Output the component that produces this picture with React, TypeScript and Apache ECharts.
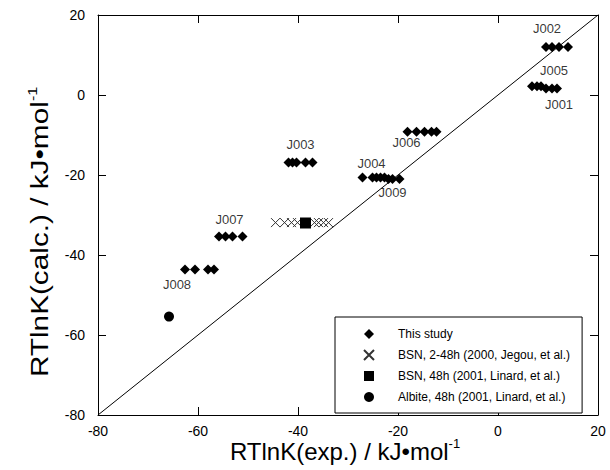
import React, { useEffect, useRef } from "react";
import * as echarts from "echarts";

// Data (kJ/mol)
const thisStudy: [number, number][] = [
  // J002
  [9.6, 12], [10.8, 12], [12.2, 12], [14.0, 12],
  // J005
  [6.8, 2.2], [7.8, 2.2], [8.6, 2.2],
  // J001
  [9.6, 1.6], [10.8, 1.6], [11.8, 1.6],
  // J006
  [-18.1, -9.2], [-16.3, -9.2], [-14.7, -9.2], [-13.3, -9.2], [-12.3, -9.2],
  // J004
  [-27.1, -20.6], [-25.1, -20.6], [-24.3, -20.6], [-23.5, -20.6], [-22.7, -20.6],
  // J009
  [-21.9, -21.0], [-21.1, -21.0], [-19.7, -21.0],
  // J003
  [-41.9, -16.9], [-41.1, -16.9], [-40.3, -16.9], [-38.5, -16.9], [-37.1, -16.9],
  // J007
  [-55.8, -35.4], [-54.5, -35.4], [-53.1, -35.4], [-51.1, -35.4],
  // J008
  [-62.6, -43.6], [-60.6, -43.6], [-58.0, -43.6], [-56.8, -43.6],
];
const bsnJegou: [number, number][] = [
  [-44.5, -31.9], [-42.7, -31.9], [-41.3, -31.9], [-40.1, -31.9],
  [-36.7, -31.9], [-35.9, -31.9], [-34.9, -31.9], [-33.9, -31.9],
];
const bsnLinard: [number, number][] = [[-38.5, -32.0]];
const albite: [number, number][] = [[-65.8, -55.4]];
const sampleLabels: [number, number, string][] = [
  [9.8, 16.75, "J002"],
  [11.2, 6.25, "J005"],
  [12.2, -2.25, "J001"],
  [-18.3, -11.75, "J006"],
  [-25.3, -17.0, "J004"],
  [-21.1, -24.25, "J009"],
  [-39.5, -12.25, "J003"],
  [-53.7, -31.0, "J007"],
  [-64.2, -47.25, "J008"],
];
const identityLine: [number, number][] = [[-80, -80], [20, 20]];
const seriesNames = [
  "This study",
  "BSN, 2-48h (2000, Jegou, et al.)",
  "BSN, 48h (2001, Linard, et al.)",
  "Albite, 48h (2001, Linard, et al.)",
];
const axisMin = -80;
const axisMax = 20;
const axisStep = 20;

const FONT = "'Liberation Sans', Arial, Helvetica, sans-serif";
const CROSS = "path://M0,0L10,10M10,0L0,10";

export default function App() {
  const ref = useRef<HTMLDivElement>(null);
  useEffect(() => {
    if (!ref.current) return;
    const chart = echarts.init(ref.current, undefined, { renderer: "svg" });
    const baseAxis = {
      type: "value" as const,
      min: axisMin,
      max: axisMax,
      interval: axisStep,
      splitLine: { show: false },
      axisLine: { show: true, onZero: false, lineStyle: { color: "#000", width: 1 } },
      axisTick: { show: true, inside: true, length: 8, lineStyle: { color: "#000" } },
    };
    chart.setOption({
      animation: false,
      backgroundColor: "#fff",
      textStyle: { fontFamily: FONT },
      grid: { left: 98, right: 12, top: 15, bottom: 55 },
      xAxis: [
        {
          ...baseAxis,
          position: "bottom",
          axisLabel: { color: "#000", fontSize: 14, margin: 9, fontFamily: FONT },
        },
        { ...baseAxis, position: "top", axisLabel: { show: false } },
      ],
      yAxis: [
        {
          ...baseAxis,
          position: "left",
          axisLabel: { color: "#000", fontSize: 14, margin: 13, fontFamily: FONT },
        },
        { ...baseAxis, position: "right", axisLabel: { show: false } },
      ],
      legend: {
        data: seriesNames,
        orient: "vertical",
        left: 335,
        top: 317,
        padding: [11, 12, 10, 28],
        itemWidth: 10,
        itemHeight: 10,
        itemGap: 9,
        borderColor: "#000",
        borderWidth: 1,
        borderRadius: 0,
        backgroundColor: "#fff",
        textStyle: { color: "#000", fontSize: 12, fontFamily: FONT, padding: [0, 0, 0, 19] },
      },
      graphic: [
        {
          type: "text",
          x: 345,
          y: 451,
          style: {
            text: "RTlnK(exp.) / kJ•mol{sup|-1}",
            fill: "#000",
            font: `24px ${FONT}`,
            align: "center",
            verticalAlign: "middle",
            rich: { sup: { fontSize: 13, verticalAlign: "top", padding: [0, 0, 15, 0] } },
          },
        },
        {
          type: "text",
          x: 40,
          y: 232,
          rotation: Math.PI / 2,
          scaleX: 1.24,
          style: {
            text: "RTlnK(calc.) / kJ•mol{sup|-1}",
            fill: "#000",
            font: `24px ${FONT}`,
            align: "center",
            verticalAlign: "middle",
            rich: { sup: { fontSize: 13, verticalAlign: "top", padding: [0, 0, 15, 0] } },
          },
        },
      ],
      series: [
        {
          type: "line",
          data: identityLine,
          symbol: "none",
          lineStyle: { color: "#000", width: 1 },
          silent: true,
          z: 1,
        },
        {
          name: seriesNames[0],
          type: "scatter",
          data: thisStudy,
          symbol: "diamond",
          symbolSize: [10, 10],
          itemStyle: { color: "#000", opacity: 1 },
          z: 3,
        },
        {
          name: seriesNames[1],
          type: "scatter",
          data: bsnJegou,
          symbol: CROSS,
          symbolSize: 9,
          itemStyle: { color: "transparent", borderColor: "#333", borderWidth: 1, opacity: 1 },
          z: 3,
        },
        {
          name: seriesNames[2],
          type: "scatter",
          data: bsnLinard,
          symbol: "rect",
          symbolSize: 11,
          itemStyle: { color: "#000", opacity: 1 },
          z: 4,
        },
        {
          name: seriesNames[3],
          type: "scatter",
          data: albite,
          symbol: "circle",
          symbolSize: 10,
          itemStyle: { color: "#000", opacity: 1 },
          z: 3,
        },
        {
          type: "scatter",
          data: sampleLabels.map((d) => ({ value: [d[0], d[1]], name: d[2] })),
          symbolSize: 1,
          itemStyle: { color: "transparent" },
          silent: true,
          label: {
            show: true,
            position: "inside",
            formatter: (p: any) => p.name,
            color: "#000",
            fontSize: 13,
            fontFamily: FONT,
          },
          z: 5,
        },
      ],
    });
    return () => chart.dispose();
  }, []);
  return (
    <div
      ref={ref}
      style={{ position: "fixed", left: 0, top: 0, width: 610, height: 470 }}
    />
  );
}
